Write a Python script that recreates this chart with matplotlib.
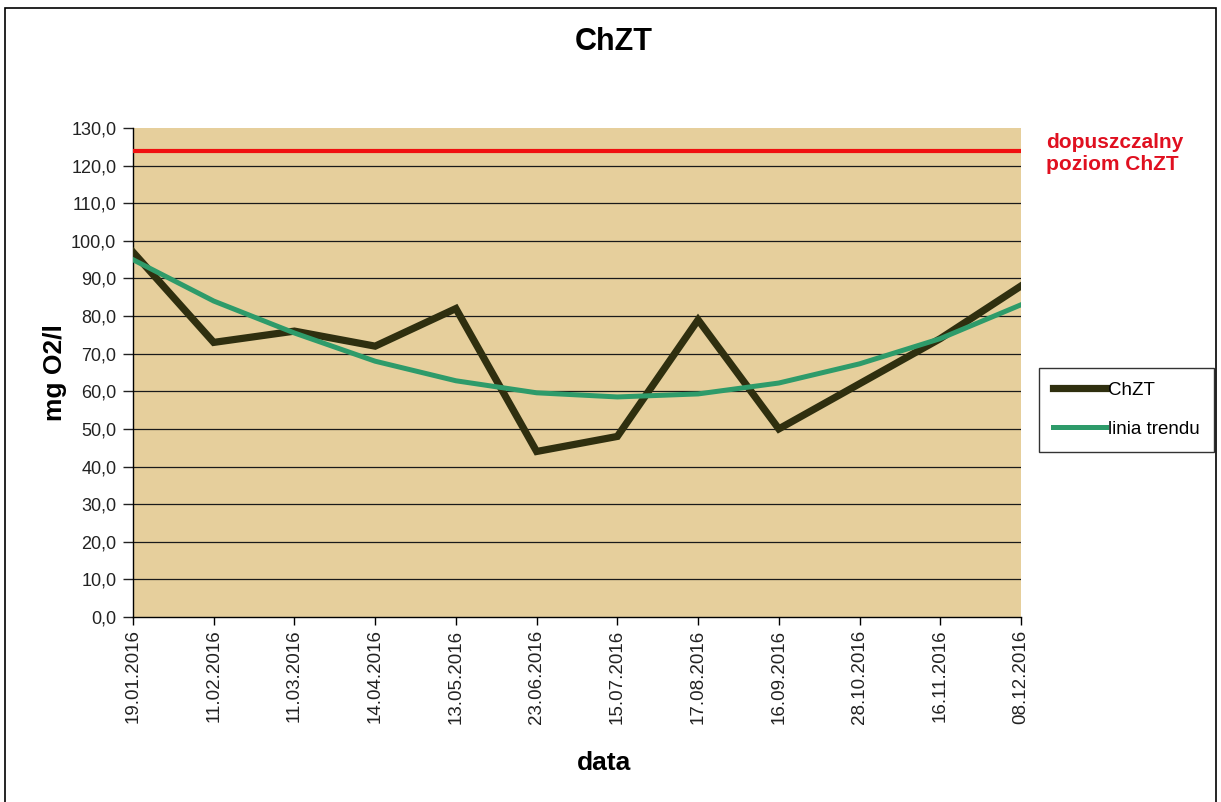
import matplotlib.pyplot as plt
from matplotlib.ticker import FuncFormatter
from matplotlib.patches import Rectangle

plt.rcParams['font.family'] = ['Liberation Sans', 'DejaVu Sans']

# dates of sampling and measured values
dates = ['19.01.2016', '11.02.2016', '11.03.2016', '14.04.2016', '13.05.2016',
         '23.06.2016', '15.07.2016', '17.08.2016', '16.09.2016', '28.10.2016',
         '16.11.2016', '08.12.2016']
chzt = [97.0, 73.0, 76.0, 72.0, 82.0, 44.0, 48.0, 79.0, 50.0, 62.0, 74.0, 88.0]
# trend line read at each date
trend = [95.0, 84.0, 75.5, 68.0, 62.8, 59.6, 58.5, 59.3, 62.2, 67.3, 74.0, 83.0]
limit = 124.0

fig = plt.figure(figsize=(12.21, 8.02), dpi=100)
fig.patch.set_facecolor('white')
# frame around whole chart
fig.add_artist(Rectangle((0.004, -0.01), 0.992, 1.0, transform=fig.transFigure,
                         fill=False, edgecolor='black', linewidth=1.2))

ax = fig.add_axes([0.1089, 0.2307, 0.7273, 0.6097])
ax.set_facecolor('#E6CF9C')

x = list(range(len(dates)))
ax.set_xlim(0, len(dates) - 1)
ax.set_ylim(0, 130)
ax.set_yticks(range(0, 131, 10))
ax.yaxis.set_major_formatter(FuncFormatter(lambda v, p: ('%.1f' % v).replace('.', ',')))
for v in range(10, 130, 10):
    ax.axhline(v, color='#1a1a1a', linewidth=0.9, zorder=1)

ax.axhline(limit, color='#F01010', linewidth=3, zorder=3)
ax.plot(x, chzt, color='#2F2F0F', linewidth=5.2, solid_joinstyle='miter', zorder=4, label='ChZT')
ax.plot(x, trend, color='#2E9B6A', linewidth=3.6, zorder=5, label='linia trendu')

ax.set_xticks(x)
ax.set_xticklabels(dates, rotation=90, fontsize=13.5, color='#222222')
ax.tick_params(axis='y', labelsize=13, colors='#222222', length=7, width=1, pad=5)
ax.tick_params(axis='x', length=6, width=1, pad=3)
for s in ['top', 'right']:
    ax.spines[s].set_visible(False)
for s in ['left', 'bottom']:
    ax.spines[s].set_color('black')
    ax.spines[s].set_linewidth(1)

ax.set_ylabel('mg O2/l', fontsize=19, fontweight='bold')
ax.yaxis.set_label_coords(-0.074, 0.5)
fig.text(0.495, 0.049, 'data', fontsize=19, fontweight='bold', ha='center', va='center')
fig.text(0.503, 0.948, 'ChZT', fontsize=22, fontweight='bold', ha='center', va='center')
fig.text(0.857, 0.8085, 'dopuszczalny\npoziom ChZT', fontsize=15, fontweight='bold',
         color='#E01020', ha='left', va='center', linespacing=1.25)

leg = fig.legend(loc='center left', bbox_to_anchor=(0.851, 0.489), fontsize=13.5,
                 frameon=True, fancybox=False, edgecolor='black', handlelength=2.8,
                 handletextpad=0.15, borderpad=0.75, labelspacing=1.15, borderaxespad=0)
leg.get_frame().set_linewidth(1)

fig.savefig('out.png', dpi=100, facecolor='white')
